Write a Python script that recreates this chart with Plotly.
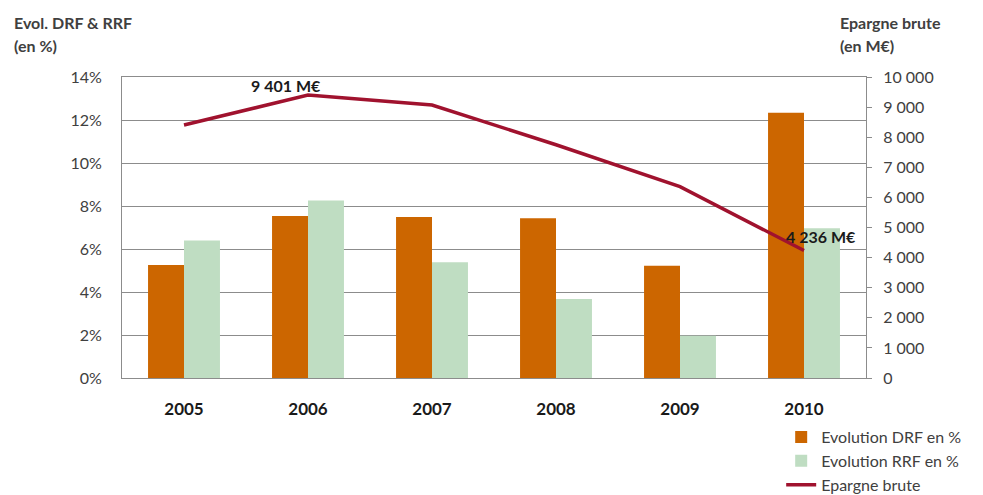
import plotly.graph_objects as go

years = ["2005", "2006", "2007", "2008", "2009", "2010"]
drf = [5.26, 7.53, 7.49, 7.43, 5.22, 12.34]
rrf = [6.40, 8.26, 5.38, 3.67, 1.97, 6.96]
epargne = [8405, 9401, 9070, 7750, 6356, 4236]
left_ticks = [0, 2, 4, 6, 8, 10, 12, 14]
right_ticks = [0, 1000, 2000, 3000, 4000, 5000, 6000, 7000, 8000, 9000, 10000]

FONT = "Lato, 'Open Sans', sans-serif"
GRAY = "#404040"
LINE = "#8c8c8c"

def fmt(v):
    return f"{v:,}".replace(",", " ")

fig = go.Figure()
fig.add_trace(go.Bar(x=years, y=drf, name="Evolution DRF en %",
                     marker=dict(color="#CC6600", line=dict(width=0))))
fig.add_trace(go.Bar(x=years, y=rrf, name="Evolution RRF en %",
                     marker=dict(color="#BFDDC2", line=dict(width=0))))
fig.add_trace(go.Scatter(x=years, y=epargne, name="Epargne brute", yaxis="y2",
                         mode="lines", line=dict(color="#A0122E", width=3.5)))

i_max = epargne.index(max(epargne))
i_last = len(epargne) - 1
fig.add_annotation(x=i_max, y=epargne[i_max], yref="y2", text=f"<b>{fmt(epargne[i_max])} M€</b>",
                   showarrow=False, xanchor="center", yanchor="middle", xshift=-22, yshift=10,
                   font=dict(family=FONT, size=16, color="#1a1a1a"))
fig.add_annotation(x=i_last, y=epargne[i_last], yref="y2", text=f"<b>{fmt(epargne[i_last])} M€</b>",
                   showarrow=False, xanchor="left", yanchor="middle", xshift=-20, yshift=14,
                   font=dict(family=FONT, size=16, color="#1a1a1a"))

title_font = dict(family=FONT, size=16, color=GRAY)
for x0, lines in [(-0.148, ["Evol. DRF & RRF", "(en %)"]), (0.962, ["Epargne brute", "(en M€)"])]:
    for txt, yv in zip(lines, [1.18, 1.106]):
        fig.add_annotation(xref="paper", yref="paper", x=x0, y=yv, xanchor="left", yanchor="middle",
                           showarrow=False, text=f"<b>{txt}</b>", font=title_font)

fig.update_layout(
    width=983, height=495,
    margin=dict(l=122, r=117, t=77, b=117, autoexpand=False),
    paper_bgcolor="white", plot_bgcolor="white",
    barmode="group", bargap=0.42, bargroupgap=0,
    font=dict(family=FONT, size=15, color=GRAY),
    showlegend=True,
    legend=dict(x=0.886, y=-0.14, xanchor="left", yanchor="top",
                font=dict(family=FONT, size=16, color=GRAY),
                traceorder="normal", tracegroupgap=0,
                bgcolor="rgba(0,0,0,0)"),
    xaxis=dict(type="category", range=[-0.5, len(years) - 0.5],
               showline=True, mirror=True, linecolor=LINE, linewidth=1,
               ticks="outside", ticklen=16, tickcolor="rgba(0,0,0,0)",
               tickfont=dict(family=FONT, size=17, color="#1a1a1a", weight="bold")),
    yaxis=dict(range=[0, 14], tickvals=left_ticks, ticktext=[f"{v}%" for v in left_ticks],
               showgrid=True, gridcolor=LINE, gridwidth=1,
               showline=True, linecolor=LINE, linewidth=1,
               zeroline=False, ticks="outside", ticklen=16, tickcolor="rgba(0,0,0,0)",
               tickfont=dict(family=FONT, size=16, color=GRAY)),
    yaxis2=dict(range=[0, 10000], tickvals=right_ticks, ticktext=[fmt(v) for v in right_ticks],
                overlaying="y", side="right",
                showgrid=False, showline=True, linecolor=LINE, linewidth=1,
                zeroline=False, ticks="outside", ticklen=5, tickcolor=LINE,
                ticklabelstandoff=8,
                tickfont=dict(family=FONT, size=16, color=GRAY)),
)

fig.write_html("out.html")
